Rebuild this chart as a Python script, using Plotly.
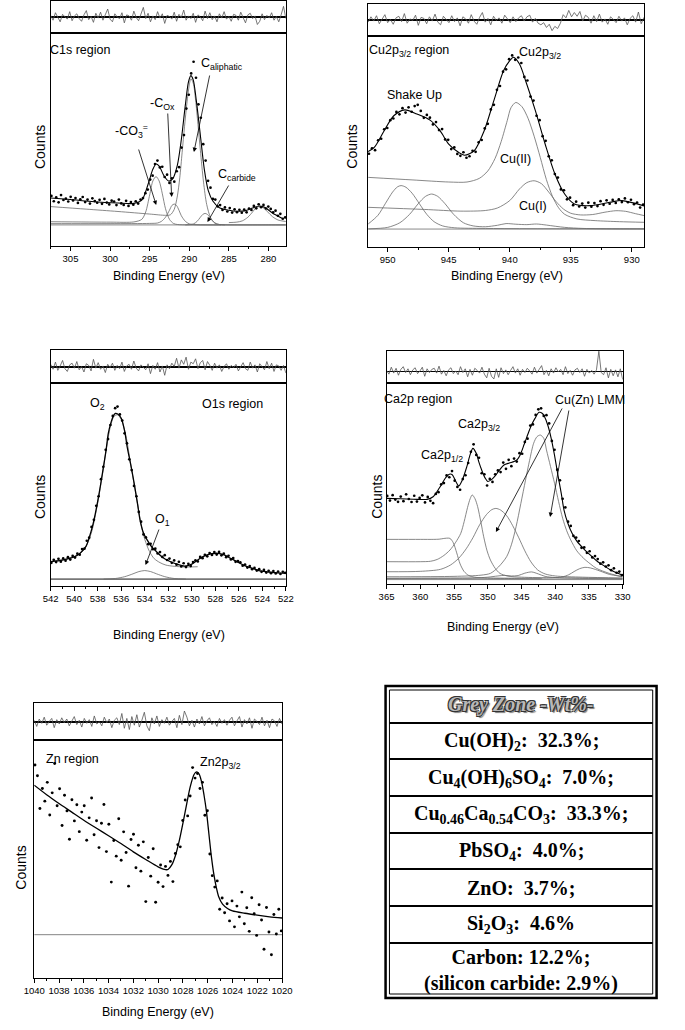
import numpy as np
import plotly.graph_objects as go

W, H = 685, 1030
SANS = "Liberation Sans Narrow, Arial Narrow, Liberation Sans, Arial, sans-serif"
SERIF = "Liberation Serif, Times New Roman, serif"
GREY = "#6a6a6a"

# ======================= C1s region =======================
c1s_dots = [23.5, 21.0, 22.8, 20.5, 23.9, 21.6, 22.2, 20.9, 23.1, 21.4,
            22.5, 20.2, 21.9, 23.0, 20.6, 21.8, 19.9, 22.4, 21.1, 20.3,
            21.7, 19.8, 22.1, 20.4, 19.5, 21.3, 20.9, 19.2, 21.8, 20.0,
            19.3, 21.2, 18.8, 20.6, 19.4, 21.0, 19.9, 21.8, 22.5, 24.8,
            26.5, 31.2, 33.0, 38.5, 40.1, 36.9, 37.2, 32.4, 33.5, 29.6,
            31.8, 30.2, 35.1, 37.0, 46.2, 52.1, 64.5, 71.0, 81.0, 86.5,
            79.0, 66.5, 60.2, 47.8, 40.1, 30.6, 27.4, 22.1, 21.8, 18.6,
            19.2, 16.9, 18.1, 16.2, 17.8, 15.7, 17.2, 15.9, 17.0, 15.6,
            17.1, 15.8, 17.6, 16.9, 18.8, 17.7, 19.6, 18.2, 19.3, 17.6,
            18.5, 17.4, 15.8, 16.6, 14.2, 15.1, 12.8, 13.4]
c1s_env_x = [307.5, 305, 302, 299, 297, 296, 295.2, 294.6, 294.2, 293.8, 293.2, 292.6, 292.1,
             291.5, 291, 290.5, 290.1, 289.8, 289.5, 289.1, 288.6, 288.1, 287.6, 287, 286.2,
             285, 284, 283, 282, 281.2, 280.5, 279.5, 278.3]
c1s_env_y = [22.5, 21.8, 20.8, 20.2, 20.0, 21.5, 29, 36, 38.5, 37.5, 33, 30.5, 31.5,
             38, 50, 66, 77, 80, 78, 68, 52, 36, 26, 21, 18,
             16.8, 16.3, 16.5, 17.8, 18.8, 18.2, 15.5, 13]
c1s_aliph_x = [307.5, 303, 299, 295, 293, 292.4, 291.9, 291.5, 291.2, 290.9, 290.6, 290.3, 290.0,
               289.8, 289.5, 289.2, 288.9, 288.6, 288.2, 287.8, 287.3, 286.8, 286.2, 284, 280, 277.8]
c1s_aliph_y = [18.5, 17.3, 16.2, 15.0, 14.4, 14.6, 17.2, 23.5, 32, 44, 56, 67, 75.5,
               78.6, 76.5, 68.5, 57, 45, 30, 19.5, 13.2, 10.8, 10.1, 9.9, 9.9, 9.9]
c1s_co3_x = [307.5, 300, 297, 296, 295.5, 295, 294.6, 294.2, 293.8, 293.4, 293, 292.5, 292,
             291.5, 290, 285, 277.8]
c1s_co3_y = [11.4, 11.2, 11.3, 12.5, 16, 24, 30.5, 32.6, 30.5, 24.5, 17.5, 12.5, 10.6,
             10.1, 9.9, 9.9, 9.9]
c1s_cox_x = [307.5, 300, 295, 294, 293.5, 293, 292.5, 292.2, 291.9, 291.6, 291.3, 291, 290.5,
             290, 289, 286]
c1s_cox_y = [10.5, 10.5, 10.6, 10.8, 11.6, 13.5, 16.8, 19, 19.7, 19, 16.8, 14.2, 11.6,
             10.4, 10.0, 9.9]
c1s_carb_x = [290.5, 289.5, 289, 288.6, 288.3, 288.0, 287.7, 287.4, 287, 286.5, 285.5]
c1s_carb_y = [9.9, 10.3, 11.6, 13.5, 14.8, 15.3, 14.8, 13.5, 11.6, 10.3, 9.9]
c1s_p281_x = [285, 284, 283.3, 282.6, 282, 281.6, 281.1, 280.6, 280.1, 279.5, 278.8, 277.8]
c1s_p281_y = [11, 11.2, 11.8, 13.5, 16, 17.8, 18.6, 17.8, 16, 13.8, 12.2, 11.5]
c1s_base_x = [307.5, 277.8]
c1s_base_y = [9.9, 9.9]
c1s_resid = [3, -6, 8, -2, -9, 5, 1, -4, 10, -7, 2, 6, -3, -8, 4, 12, -5, 1, -10, 7,
             -2, 9, -6, 3, 15, -4, -9, 6, 0, -3, 8, -11, 4, 2, -6, 11, -1, -7, 5, 18,
             -3, 7, -9, 2, -5, 10, -2, 6, -12, 3, 1, -4, 9, -8, 5, -1, 13, -6, 2, -3,
             7, -10, 4, 0, -7, 11, -3, 8, -5, 2, -9, 6, -2, 10, -4, 1, -8, 5, 3, -6,
             9, -1, -11, 4, 7, -3, 2, -14, -8, 6, -5, 3, -2, 8, -6, 1, -9, 4, 20, -3]

# ======================= Cu2p3/2 region =======================
cu_dots = [44.2, 46.8, 45.9, 50.6, 51.3, 55.8, 56.4, 60.1, 60.9, 64.0,
           62.9, 65.8, 63.7, 66.2, 64.1, 66.8, 67.4, 64.5, 61.2, 62.6,
           61.3, 58.1, 59.2, 55.4, 55.9, 51.0, 50.8, 46.4, 47.2, 44.1,
           43.2, 44.9, 42.3, 43.0, 45.6, 45.1, 49.6, 50.7, 56.2, 58.4,
           65.2, 67.4, 74.5, 76.3, 83.1, 84.2, 89.0, 90.8, 88.7, 89.8,
           87.2, 80.6, 78.9, 71.3, 69.4, 62.2, 60.1, 52.5, 50.3, 43.0,
           41.1, 34.6, 32.9, 27.3, 26.9, 22.6, 23.4, 19.8, 21.5, 19.2,
           20.6, 18.7, 21.0, 19.1, 20.8, 19.4, 21.7, 20.0, 22.1, 20.5,
           22.3, 20.9, 22.6, 21.3, 23.0, 21.2, 22.4, 20.3, 21.1, 18.7, 20.1]
cu_env_x = [951.7, 951.1, 950.3, 949.5, 948.6, 947.6, 946.5, 945.7, 945.0, 944.2, 943.7, 942.9,
            942.1, 941.3, 940.5, 940.0, 939.7, 939.2, 938.7, 937.9, 937.1, 936.3, 935.5, 934.7,
            933.4, 931.8, 930.8, 929.0]
cu_env_y = [44.9, 47.2, 55, 62.2, 65, 63, 60, 55, 48.8, 44.9, 43.5, 45.7,
            55, 69.4, 83.6, 88.3, 89.9, 86.7, 78.8, 64.6, 48.8, 34.6, 25.1, 20.4,
            19.6, 21.2, 22, 19.5]
cu_ii_x = [951.6, 948, 945, 943.5, 942.5, 941.8, 941.2, 940.7, 940.2, 939.9, 939.5, 939.0,
           938.5, 938.0, 937.5, 937.0, 936.5, 936.0, 935.5, 934.5, 933, 931, 929]
cu_ii_y = [33, 31.8, 30.8, 30.8, 32.5, 36, 42, 50, 60, 66, 68.5, 66.5,
           61, 52.5, 42.5, 32, 24, 18.6, 15.5, 13.3, 12.5, 12, 11.7]
cu_i_x = [951.6, 947, 944, 942, 941, 940, 939.2, 938.6, 938.0, 937.4, 936.8, 936.2, 935.6,
          935, 934.2, 933.2, 932.2, 931.3, 930.5, 929.7, 929]
cu_i_y = [18.8, 17.8, 17, 17.3, 18.5, 22, 27.5, 30.5, 31.4, 30, 26, 21.5, 18,
          16, 15.2, 15.4, 16.5, 17.2, 16.9, 15.8, 14.9]
cu_su1_x = [951.6, 950.8, 950.2, 949.6, 949.2, 948.9, 948.5, 948.0, 947.4, 946.8, 946.2, 945.5,
            944.5, 942, 929]
cu_su1_y = [10.9, 15, 20.5, 26, 28.5, 29.1, 28.3, 25.5, 20.5, 15.5, 12, 10,
            9.1, 8.8, 8.6]
cu_su2_x = [951.6, 950, 949, 948.2, 947.5, 946.9, 946.4, 945.9, 945.3, 944.6, 943.8, 943, 942,
            941, 940.3, 939.5, 938.6, 937.8, 937, 935.5, 934, 931, 929]
cu_su2_y = [8.6, 9.3, 11.5, 15.5, 20.5, 24, 25.1, 24, 20.5, 15.5, 11.5, 10, 9.6,
            10.3, 11.1, 10.8, 10.6, 10.9, 10.4, 9.3, 8.8, 8.6, 8.6]
cu_base_x = [951.6, 929.0]
cu_base_y = [8.5, 8.5]
cu_resid = [-4, 6, -2, 8, -7, 3, 10, -5, 1, -8, 4, 7, -3, 12, -6, 2, -1, 9, -10, 5,
            3, -7, 6, -2, 11, -4, -9, 7, 1, -5, 8, -3, 4, -11, 6, 2, -6, 10, -2, -8,
            5, 14, -4, 3, -9, 7, -1, 4, -6, 9, 2, -5, 6, -3, 4, 8, -2, 6, 9, -4,
            3, -6, -9, -5, -14, -8, -20, -12, -16, -6, 10, 4, 18, 6, 14, 7, 16, -2, 9, 5,
            -6, 8, -3, 11, -4, 2, -8, 6, 1, -5, 7, -2, 4, -9, 3, 8, -4, 15, -7, 5]

# ======================= O1s region =======================
o1s_dots = [11.4, 12.9, 11.8, 13.4, 12.0, 13.6, 12.5, 14.2, 13.0, 14.8,
            14.0, 15.9, 15.4, 18.2, 18.4, 22.3, 23.8, 29.1, 32.6, 39.5,
            44.2, 52.6, 58.7, 67.1, 72.4, 79.3, 83.8, 87.6, 88.4, 84.5,
            81.5, 75.2, 70.3, 62.4, 57.1, 49.3, 44.2, 36.5, 31.7, 25.4,
            24.0, 20.6, 20.8, 18.1, 18.4, 16.0, 16.7, 14.3, 15.2, 12.8,
            13.5, 11.4, 12.6, 10.5, 11.9, 9.6, 11.2, 9.3, 10.9, 9.8,
            11.8, 12.6, 12.1, 14.3, 13.7, 15.4, 14.6, 16.2, 15.3, 16.7,
            15.5, 16.8, 15.1, 15.9, 14.2, 14.9, 13.1, 13.8, 11.9, 12.3,
            11.7, 10.0, 10.6, 9.1, 9.8, 8.3, 8.9, 7.6, 8.3, 7.0,
            7.9, 6.6, 7.5, 6.3, 7.4, 6.2, 7.1, 5.9, 7.0, 6.5]
o1s_env_x = [542, 541, 540.4, 540, 539.5, 539, 538.7, 538.4, 538.2, 537.9, 537.6, 537.3,
             537.1, 536.9, 536.7, 536.5, 536.3, 536.0, 535.7, 535.5, 535.2, 534.9, 534.6,
             534.4, 534.1, 533.8, 533.4, 533.0, 532.5, 531.9, 531.2, 530.6, 530, 529.5,
             529, 528.4, 527.8, 527.2, 526.7, 526.1, 525.6, 524.9, 524.3, 523.6, 522.9, 522]
o1s_env_y = [12.0, 12.8, 13.6, 14.3, 16.1, 19.5, 24.3, 30.5, 35.8, 45, 55.5, 66.5,
             75.2, 80, 83.4, 85, 84.7, 82.6, 76, 68.6, 60, 50.6, 40,
             32.5, 26, 22.7, 19.2, 16.9, 14.2, 12.2, 10.6, 9.8, 10.8, 12.8,
             14.6, 15.8, 16.1, 15.2, 13.6, 11.8, 10.3, 8.8, 7.6, 7.0, 6.6, 6.2]
o1s_o2_x = [542, 540.5, 539.5, 539, 538.5, 538, 537.6, 537.2, 536.9, 536.6, 536.3, 536.0, 535.6,
            535.2, 534.9, 534.6, 534.3, 534.0, 533.6, 533.2, 532.7, 532.2, 531.5, 530.6, 530.0, 529.5]
o1s_o2_y = [12, 13.6, 16, 19.4, 27, 41, 55, 70, 79, 83.7, 84.3, 82, 74,
            60, 50, 40, 30, 23, 17, 13.5, 11.5, 10.3, 9.7, 9.4, 9.4, 9.5]
o1s_o1_x = [537.5, 536.5, 535.7, 535, 534.5, 534.0, 533.5, 533, 532.3, 531.5, 530.5]
o1s_o1_y = [3.4, 3.7, 4.6, 6.0, 7.1, 7.6, 7.1, 6.0, 4.6, 3.7, 3.4]
o1s_base_x = [542, 522]
o1s_base_y = [3.4, 3.4]
o1s_resid = [5, -4, 9, -6, 2, 12, -3, -8, 4, 7, -2, 10, -5, 1, -9, 6, 3, -7, 14, -2,
             8, -4, 2, -10, 5, -1, 7, -6, 3, -3, 9, -8, 2, 5, -4, 11, -2, -7, 4, 0,
             -5, 6, -12, 3, -4, 8, -9, 2, -15, 4, -3, 7, 1, 16, -2, 13, 5, 18, -4, 9,
             6, 15, -3, 8, 12, -5, 10, 3, -6, 7, -2, 4, -8, 1, 6, -4, 3, -1, 5, -7,
             2, 8, -3, -6, 9, -2, 4, -9, 6, 1, -5, 10, -3, 7, -8, 4, 2, -6, 3, -11]

# ======================= Ca2p region =======================
ca_dots = [43.8, 41.5, 44.2, 42.0, 40.9, 43.5, 41.2, 44.6, 42.3, 40.8,
           43.9, 41.0, 42.8, 44.1, 40.6, 43.3, 41.4, 40.2, 44.8, 45.7,
           49.6, 50.2, 54.0, 53.1, 56.2, 51.4, 48.3, 46.9, 52.2, 54.1,
           60.2, 65.8, 69.5, 64.2, 62.8, 55.1, 54.6, 49.0, 52.3, 50.8,
           54.6, 56.5, 55.7, 60.4, 57.3, 61.8, 58.6, 62.4, 60.9, 65.1,
           64.8, 70.7, 72.3, 78.8, 79.4, 84.1, 86.9, 87.4, 83.6, 84.0,
           79.9, 71.2, 66.8, 56.9, 51.6, 42.4, 38.1, 31.0, 28.9, 23.9,
           23.1, 21.4, 18.0, 18.2, 15.5, 16.3, 13.2, 13.9, 12.4, 10.1,
           10.8, 8.7, 9.3, 6.9, 7.8, 5.6, 6.2, 4.4]
ca_env_x = [365.3, 363, 361, 359, 358.1, 357.2, 356.6, 356.2, 355.7, 355.3, 354.8, 354.3, 353.8,
            353.1, 352.6, 352.2, 351.7, 351.3, 350.9, 350.4, 350.0, 349.5, 349.0, 348.3, 347.6,
            346.8, 346.1, 345.6, 345.2, 344.6, 344.0, 343.5, 343.0, 342.4, 341.9, 341.6, 341.1,
            340.6, 340.1, 339.6, 339.1, 338.7, 338.1, 337.5, 336.8, 335.6, 334.6, 333.7, 332.7,
            331.8, 330.1]
ca_env_y = [42.6, 42.4, 42.2, 42.1, 43.4, 47.6, 51, 53.1, 54.6, 54.5, 51.5, 48.8, 51.5,
            58.4, 64.5, 67.5, 65, 60.5, 56.7, 52.8, 51.0, 51.8, 53.4, 56.5, 59.2,
            60.2, 60.9, 62, 64.2, 69.5, 75, 79.2, 82.4, 85.4, 84.8, 83.3, 79,
            72.5, 64, 54.2, 45, 36.8, 30, 25.2, 21.3, 16.9, 13.8, 11.1, 8.9,
            7.0, 4.5]
ca_p12_x = [365, 360, 358, 357.2, 356.6, 356.1, 355.6, 355.1, 354.6, 354.1, 353.5, 352.8, 352,
            350, 346, 342]
ca_p12_y = [22.2, 22.2, 22.2, 22.3, 22.6, 22.8, 22.7, 20.5, 15.5, 10, 6.2, 4.2, 3.4,
            2.9, 2.7, 2.6]
ca_p32_x = [365, 360, 358.5, 357.5, 356.5, 355.6, 354.8, 354.0, 353.5, 353.0, 352.6, 352.3,
            351.9, 351.5, 351.0, 350.6, 350.1, 349.6, 348.9, 348.2, 347, 345, 340, 330]
ca_p32_y = [11.1, 11.1, 11.3, 12.2, 14.2, 16.9, 20.5, 25.2, 31, 38, 42.5, 44.3,
            42.5, 38.5, 30.5, 23.5, 16.5, 11.9, 7.8, 5.3, 3.9, 3.4, 3.0, 2.5]
ca_broad_x = [365, 360, 357, 355.5, 354.3, 353.2, 352.2, 351.2, 350.2, 349.4, 348.8, 348.1,
              347.2, 346.3, 345.4, 344.5, 343.6, 342.6, 341.5, 340, 336, 330]
ca_broad_y = [6.1, 6.3, 7.3, 9.5, 12.8, 17.5, 23, 29.5, 34.5, 37, 37.6, 36.8,
              34, 29, 23, 16.5, 11, 7, 5, 4, 3.4, 3]
ca_lmm_x = [365, 355, 351, 349.6, 348.4, 347.2, 346.5, 345.8, 345.1, 344.4, 343.8, 343.2, 342.7,
            342.2, 341.7, 341.3, 340.7, 340.1, 339.5, 338.9, 338.3, 337.7, 336.8, 335.8, 334.8,
            333.9, 332.0, 330.1]
ca_lmm_y = [3.6, 3.8, 4.4, 5.3, 8.5, 13.6, 19.5, 28.5, 40, 51.7, 61.5, 70, 73.3,
            74.1, 72.5, 66.7, 58.5, 50.1, 41, 32.7, 26.5, 21.9, 16.5, 12.8, 10.0,
            7.8, 5.3, 3.6]
ca_small_x = [365, 350, 341, 339, 338, 337.2, 336.4, 335.6, 334.8, 334, 333, 332, 330.2]
ca_small_y = [2.8, 2.9, 3, 3.5, 4.6, 6.2, 7.6, 8.3, 8.0, 7.2, 6.0, 4.8, 3.8]
ca_low_x = [365, 355, 352, 350, 348.5, 347.5, 346.5, 345.5, 344.5, 343.5, 342.5, 341.5, 340, 337, 330]
ca_low_y = [2.8, 2.9, 3.0, 3.4, 4.0, 4.3, 4.0, 4.2, 5.4, 6.0, 5.0, 3.8, 3.2, 3.0, 2.8]
ca_base_x = [365, 330]
ca_base_y = [2.2, 2.2]
ca_resid = [2, -5, 8, -3, 6, -7, 4, 9, -2, 5, -6, 3, 7, -4, 1, 8, -9, 5, -2, 4,
            6, -3, 10, -5, 2, -8, 3, 7, -4, 1, -6, 9, -2, 5, -10, 4, -7, 6, 2, -3,
            8, -5, -12, 6, -9, -14, 5, -11, 7, -4, 3, -6, 2, 9, -3, 5, -7, 4, -2, 6,
            1, -5, 8, -3, 4, 11, -6, 2, -8, 5, -3, 7, -1, 4, -6, 9, -4, 2, -7, 3,
            6, -2, 5, -9, 4, -3, 2, -5, 3, 38, -2, -6, 7, -12, 4, -8, 3, -10, 5, -15]

# ======================= Zn region =======================
zn_dots = [89.5, 85.0, 71.2, 79.6, 74.3, 82.2, 68.5, 77.8, 90.1, 72.4,
           79.5, 64.1, 76.8, 70.2, 58.3, 74.9, 66.0, 72.8, 61.5, 69.7,
           72.4, 57.9, 67.3, 75.6, 60.2, 66.1, 54.8, 65.0, 72.9, 53.1,
           64.6, 40.3, 57.8, 51.2, 66.9, 49.5, 61.4, 52.7, 38.6, 58.2,
           60.4, 46.3, 55.8, 44.9, 57.2, 32.1, 50.6, 42.8, 54.3, 31.8,
           40.2, 47.5, 38.4, 46.9, 43.1, 49.0, 40.5, 52.3, 56.0, 55.1,
           66.2, 74.8, 68.1, 76.5, 88.4, 84.0, 85.9, 79.6, 82.2, 68.4,
           70.3, 52.1, 43.0, 38.2, 40.8, 28.9, 33.6, 27.4, 31.2, 24.0,
           32.4, 21.5, 30.2, 25.7, 36.1, 22.8, 29.5, 19.6, 33.7, 27.0,
           17.9, 30.8, 24.4, 12.1, 29.6, 19.3, 9.8, 26.7, 18.5, 28.9, 19.8]
zn_env_x = [1040, 1039, 1038, 1037, 1036, 1035, 1034, 1033, 1032, 1031, 1030, 1029.5, 1029.2,
            1028.9, 1028.6, 1028.3, 1028.0, 1027.7, 1027.4, 1027.1, 1026.9, 1026.7, 1026.5,
            1026.3, 1026.1, 1025.9, 1025.7, 1025.5, 1025.3, 1025.1, 1024.8, 1024.4, 1024.0,
            1023, 1022, 1021, 1020]
zn_env_y = [81, 77, 73.3, 69.8, 66.3, 63, 59.8, 56.5, 53, 49.8, 46.7, 45.6, 45.6,
            47.5, 51.5, 57.5, 65, 73, 80.5, 85.5, 86.6, 85.8, 82.6,
            77, 70, 60.5, 51, 43.5, 38, 34, 31, 29.2, 28.2,
            27.2, 26.4, 25.7, 25.2]
zn_base_x = [1040, 1020]
zn_base_y = [18.2, 18.2]
zn_resid = [3, -7, 5, -2, 8, -5, 1, 6, -9, 4, -3, 7, -1, 5, -6, 2, 9, -4, 3, -8,
            6, -2, 4, -7, 10, -3, 1, -6, 8, -1, 5, -9, 3, 7, -4, 14, -10, 6, -12, 9,
            -5, 12, -8, 3, 16, -6, -14, 7, -3, 10, -7, 4, -2, 8, -5, 1, 6, -9, 11, -4,
            18, 8, -6, 3, -8, 5, -3, 9, -6, 2, 7, -4, 1, -7, 6, -2, 4, -5, 3, 8,
            -6, 2, 9, -8, 4, -3, 7, -10, 5, 1, -4, 8, -6, 3, -9, 5, 2, -7, 6, -3]

# ======================= Table =======================
table_title = "Grey Zone -Wt%-"
table_rows = ["Cu(OH)<sub>2</sub>:&nbsp; 32.3%;",
              "Cu<sub>4</sub>(OH)<sub>6</sub>SO<sub>4</sub>:&nbsp; 7.0%;",
              "Cu<sub>0.46</sub>Ca<sub>0.54</sub>CO<sub>3</sub>:&nbsp; 33.3%;",
              "PbSO<sub>4</sub>:&nbsp; 4.0%;",
              "ZnO:&nbsp; 3.7%;",
              "Si<sub>2</sub>O<sub>3</sub>:&nbsp; 4.6%",
              "Carbon: 12.2%;<br>(silicon carbide: 2.9%)"]

# ======================= layout helpers =======================
def fx(px):
    return px / W


def fy(py):
    return 1 - py / H


def aname(kind, n):
    return kind if n == 1 else f"{kind}{n}"


def akey(kind, n):
    return f"{kind}axis" if n == 1 else f"{kind}axis{n}"


panels = [
    dict(x0=41, x1=284, yt=1, ym=33, yb=246, xr=[307.5, 277.8], dt=5, mdt=2.5, rr=[-30, 30]),
    dict(x0=369, x1=654, yt=4, ym=36, yb=247, xr=[951.6, 929.0], dt=5, mdt=2.5, rr=[-30, 30]),
    dict(x0=41, x1=284, yt=350, ym=383, yb=586, xr=[542, 522], dt=2, mdt=1, rr=[-29, 31]),
    dict(x0=388, x1=632, yt=351, ym=383, yb=584, xr=[365, 330], dt=5, mdt=2.5, rr=[-21.6, 38.4]),
    dict(x0=24, x1=280, yt=703, ym=740, yb=978, xr=[1040, 1020], dt=2, mdt=1, rr=[-29, 31]),
]

fig = go.Figure()
layout = dict(width=W, height=H, margin=dict(l=0, r=0, t=0, b=0),
              paper_bgcolor="white", plot_bgcolor="white", showlegend=False)

for i, p in enumerate(panels):
    m, r = 2 * i + 1, 2 * i + 2
    dom_x = [fx(p["x0"]), fx(p["x1"])]
    layout[akey("x", m)] = dict(domain=dom_x, range=p["xr"], anchor=aname("y", m),
                                showline=True, mirror=True, linecolor="black", linewidth=1,
                                ticks="outside", ticklen=4, tickwidth=1, tickcolor="black",
                                tick0=0, dtick=p["dt"],
                                minor=dict(dtick=p["mdt"], tick0=0, ticks="outside", ticklen=2,
                                           tickcolor="black", showgrid=False),
                                tickfont=dict(family=SANS, size=9.5, color="black"),
                                showgrid=False, zeroline=False)
    layout[akey("y", m)] = dict(domain=[fy(p["yb"]), fy(p["ym"])], range=[0, 100],
                                anchor=aname("x", m), showline=True, mirror=True,
                                linecolor="black", linewidth=1, showticklabels=False,
                                ticks="", showgrid=False, zeroline=False)
    layout[akey("x", r)] = dict(domain=dom_x, range=p["xr"], anchor=aname("y", r),
                                showline=True, mirror=True, linecolor="black", linewidth=1,
                                showticklabels=False, ticks="", showgrid=False, zeroline=False)
    layout[akey("y", r)] = dict(domain=[fy(p["ym"]), fy(p["yt"])], range=p["rr"],
                                anchor=aname("x", r), showline=True, mirror=True,
                                linecolor="black", linewidth=1, showticklabels=False,
                                ticks="", showgrid=False, zeroline=True,
                                zerolinecolor="black", zerolinewidth=1.6)


def add_line(i, x, y, color=GREY, width=0.8):
    m = 2 * i + 1
    fig.add_trace(go.Scatter(x=x, y=y, mode="lines", xaxis=aname("x", m), yaxis=aname("y", m),
                             line=dict(color=color, width=width, shape="spline", smoothing=0.8),
                             hoverinfo="skip"))


def add_dots(i, y, size=2.7):
    m = 2 * i + 1
    xr = panels[i]["xr"]
    span = xr[0] - xr[1]
    x = np.linspace(xr[0] - 0.003 * span, xr[1] + 0.003 * span, len(y))
    fig.add_trace(go.Scatter(x=x, y=y, mode="markers", xaxis=aname("x", m), yaxis=aname("y", m),
                             marker=dict(color="black", size=size, line=dict(width=0)),
                             cliponaxis=False, hoverinfo="skip"))


def add_resid(i, y):
    r = 2 * i + 2
    xr = panels[i]["xr"]
    x = np.linspace(xr[0], xr[1], len(y))
    fig.add_trace(go.Scatter(x=x, y=y, mode="lines", xaxis=aname("x", r), yaxis=aname("y", r),
                             line=dict(color="#555555", width=0.8), hoverinfo="skip"))


# C1s
for cx, cy in [(c1s_base_x, c1s_base_y), (c1s_co3_x, c1s_co3_y), (c1s_cox_x, c1s_cox_y),
               (c1s_aliph_x, c1s_aliph_y), (c1s_carb_x, c1s_carb_y), (c1s_p281_x, c1s_p281_y)]:
    add_line(0, cx, cy)
add_line(0, c1s_env_x, c1s_env_y, "black", 1.1)
add_dots(0, c1s_dots)
add_resid(0, c1s_resid)

# Cu
for cx, cy in [(cu_base_x, cu_base_y), (cu_su1_x, cu_su1_y), (cu_su2_x, cu_su2_y),
               (cu_i_x, cu_i_y), (cu_ii_x, cu_ii_y)]:
    add_line(1, cx, cy)
add_line(1, cu_env_x, cu_env_y, "black", 1.1)
add_dots(1, cu_dots)
add_resid(1, cu_resid)

# O1s
add_line(2, o1s_base_x, o1s_base_y, "#777777", 1.8)
add_line(2, o1s_o1_x, o1s_o1_y)
add_line(2, o1s_o2_x, o1s_o2_y)
add_line(2, o1s_env_x, o1s_env_y, "black", 1.3)
add_dots(2, o1s_dots)
add_resid(2, o1s_resid)

# Ca
for cx, cy in [(ca_base_x, ca_base_y), (ca_low_x, ca_low_y), (ca_small_x, ca_small_y),
               (ca_p12_x, ca_p12_y), (ca_p32_x, ca_p32_y), (ca_broad_x, ca_broad_y),
               (ca_lmm_x, ca_lmm_y)]:
    add_line(3, cx, cy)
add_line(3, ca_env_x, ca_env_y, "black", 1.1)
add_dots(3, ca_dots)
add_resid(3, ca_resid)

# Zn
add_line(4, zn_base_x, zn_base_y, "#777777", 0.9)
add_line(4, zn_env_x, zn_env_y, "black", 1.3)
add_dots(4, zn_dots, 2.9)
add_resid(4, zn_resid)

# ======================= annotations =======================
ann = []


def label(text, px, py, size=12, angle=0, family=SANS, color="black", **kw):
    ann.append(dict(text=text, x=fx(px), y=fy(py), xref="paper", yref="paper", showarrow=False,
                    xanchor="center", yanchor="middle", textangle=angle,
                    font=dict(family=family, size=size, color=color, **kw)))


def arrow(hx, hy, dx, dy):
    ann.append(dict(text="", x=fx(hx), y=fy(hy), xref="paper", yref="paper", showarrow=True,
                    ax=dx, ay=dy, arrowhead=2, arrowsize=1.1, arrowwidth=0.8,
                    arrowcolor="black", standoff=0))


for txt, px, py in [("C1s region", 71, 50), ("-CO<sub>3</sub><sup>=</sup>", 124, 131),
                    ("-C<sub>Ox</sub>", 157, 104), ("C<sub>aliphatic</sub>", 218, 64),
                    ("C<sub>carbide</sub>", 234, 175),
                    ("Cu2p<sub>3/2</sub> region", 411, 51), ("Cu2p<sub>3/2</sub>", 547, 53),
                    ("Shake Up", 417, 95), ("Cu(II)", 521, 159), ("Cu(I)", 539, 206),
                    ("O<sub>2</sub>", 89, 404), ("O1s region", 229, 404), ("O<sub>1</sub>", 157, 520),
                    ("Ca2p region", 420, 399), ("Ca2p<sub>3/2</sub>", 484, 425),
                    ("Ca2p<sub>1/2</sub>", 445, 456), ("Cu(Zn) LMM", 598, 400),
                    ("Zn region", 64, 759), ("Zn2p<sub>3/2</sub>", 216, 763)]:
    label(txt, px, py, 12.5)

for hx, hy, dx, dy in [(150, 205, -18, -57), (166, 197, -4, -85), (189, 152, 16, -78),
                       (203, 222, 22, -38), (139, 565, 14, -37), (501, 532, 67, -125),
                       (557, 517, 19, -108)]:
    arrow(hx, hy, dx, dy)

for px, py in [(163, 276), (512, 276), (163, 635), (508, 627), (152, 1012)]:
    label("Binding Energy (eV)", px, py, 12.5)
for px, py in [(30, 147), (352, 147), (30, 497), (378, 497), (10, 868)]:
    label("Counts", px, py, 14, angle=-90)

# table
shapes = [dict(type="rect", xref="paper", yref="paper", x0=fx(387), x1=fx(667), y0=fy(998), y1=fy(686),
               line=dict(color="black", width=2.5)),
          dict(type="rect", xref="paper", yref="paper", x0=fx(391), x1=fx(663), y0=fy(994), y1=fy(690),
               line=dict(color="black", width=1))]
for ly in [723, 759, 796, 833, 869, 906, 943]:
    shapes.append(dict(type="line", xref="paper", yref="paper", x0=fx(391), x1=fx(663),
                       y0=fy(ly), y1=fy(ly), line=dict(color="black", width=2)))

label("<b><i>" + table_title + "</i></b>", 527, 704, 20, family=SERIF, color="#b8b8b8",
      shadow="-1px -1px 0 #333, 1px -1px 0 #333, -1px 1px 0 #333, 1px 1px 0 #333, 2px 2px 1px #777")
for txt, py in zip(table_rows, [741, 778, 814, 851, 888, 924, 970]):
    label("<b>" + txt + "</b>", 527, py, 20, family=SERIF)

layout["annotations"] = ann
layout["shapes"] = shapes
fig.update_layout(**layout)
fig.write_html("out.html", config={"displayModeBar": False, "staticPlot": True},
               post_script="document.body.style.margin='0px';document.body.style.padding='0px';"
                           "document.documentElement.style.overflow='hidden';")
